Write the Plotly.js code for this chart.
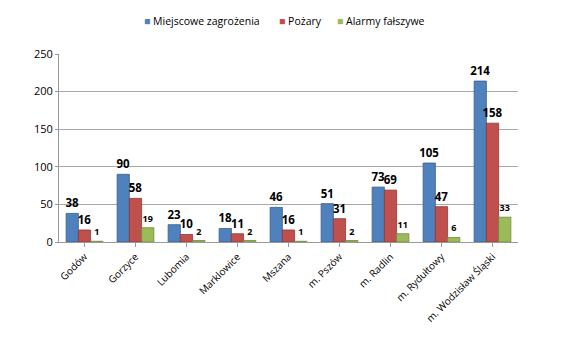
<!DOCTYPE html>
<html><head><meta charset="utf-8">
<script src="https://cdn.plot.ly/plotly-3.0.1.min.js"></script>
<style>body{margin:0;background:#fff}#c{width:588px;height:356px}</style>
</head><body><div id="c"></div>
<script>
const categories = ["Godów","Gorzyce","Lubomia","Marklowice","Mszana","m. Pszów","m. Radlin","m. Rydułtowy","m. Wodzisław Śląski"];
const miejscowe = [38,90,23,18,46,51,73,105,214];
const pozary = [16,58,10,11,16,31,69,47,158];
const alarmy = [1,19,2,2,1,2,11,6,33];
const seriesNames = ["Miejscowe zagrożenia","Pożary","Alarmy fałszywe"];
const yTicks = [0,50,100,150,200,250];

const colors = ["#4F81BD","#C0504D","#9BBB59"];
const lines = ["#385D8A","#8C3836","#71893F"];
const vals = [miejscowe, pozary, alarmy];
const traces = vals.map((v,i)=>({
  type:'bar', x:categories, y:v, name:seriesNames[i],
  marker:{color:colors[i], line:{color:lines[i], width:0.8}},
  text:v.map(String), textposition:'outside', cliponaxis:false, constraintext:'none',
  textfont:{family:'Open Sans, sans-serif', size: i===2?9:11.5, color:'#000', weight:'bold'},
  hoverinfo:'x+y', showlegend:false
}));
// legend built as annotations (colored square + name)
const legX = [142, 277, 335];
const annotations = seriesNames.map((n,i)=>({
  xref:'paper', yref:'paper', x:(legX[i]-59)/459, y:1+(54-21)/188, xanchor:'left', yanchor:'middle',
  text:'<span style="color:'+colors[i]+'">■</span> '+n, showarrow:false,
  font:{family:'Open Sans, sans-serif', size:10.5, color:'#000'}
}));
Plotly.newPlot('c', traces, {
  width:588, height:356,
  margin:{l:59, r:70, t:54, b:114},
  paper_bgcolor:'#fff', plot_bgcolor:'#fff',
  barmode:'group', bargap:0.28, bargroupgap:0,
  font:{family:'Open Sans, sans-serif', size:10, color:'#404040'},
  showlegend:false,
  annotations: annotations,
  xaxis:{tickangle:-45, showline:true, linecolor:'#999', ticks:'outside', ticklen:4, tickcolor:'#999', tickfont:{size:10, color:'#000'}},
  yaxis:{range:[0,250], tickvals:yTicks, showgrid:true, gridcolor:'#a8a8a8', gridwidth:1, showline:true, linecolor:'#999', ticks:'outside', ticklen:3, tickcolor:'#999', zeroline:false, tickfont:{size:11, color:'#000'}}
}, {displayModeBar:false, staticPlot:true});
</script></body></html>
